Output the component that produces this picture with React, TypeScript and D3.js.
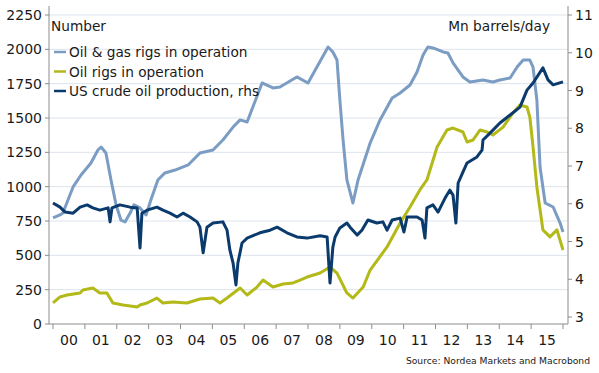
import React from 'react';
import * as d3 from 'd3';

const width = 599;
const height = 373;

// total oil & gas rigs (lhs)
const rigDates = [2000.0, 2000.22, 2000.31, 2000.47, 2000.63, 2000.88, 2001.19, 2001.41, 2001.51, 2001.66, 2001.82, 2001.98, 2002.13, 2002.26, 2002.42, 2002.54, 2002.73, 2002.92, 2003.07, 2003.29, 2003.51, 2003.83, 2004.24, 2004.61, 2005.02, 2005.33, 2005.65, 2005.87, 2006.09, 2006.27, 2006.56, 2006.9, 2007.12, 2007.65, 2008.0, 2008.28, 2008.63, 2008.78, 2008.91, 2009.0, 2009.1, 2009.22, 2009.41, 2009.57, 2009.95, 2010.26, 2010.64, 2010.89, 2011.2, 2011.42, 2011.61, 2011.76, 2011.92, 2012.24, 2012.39, 2012.55, 2012.86, 2013.08, 2013.49, 2013.8, 2014.02, 2014.34, 2014.56, 2014.75, 2014.96, 2015.06, 2015.18, 2015.28, 2015.44, 2015.69, 2015.91, 2016.0];
const rigTotal = [772, 794, 808, 903, 998, 1085, 1172, 1267, 1289, 1245, 1049, 867, 757, 743, 808, 867, 845, 794, 903, 1049, 1100, 1121, 1158, 1245, 1267, 1340, 1434, 1486, 1471, 1580, 1755, 1719, 1726, 1799, 1755, 1871, 2017, 1981, 1922, 1631, 1340, 1049, 881, 1049, 1318, 1486, 1646, 1682, 1740, 1835, 1959, 2017, 2010, 1981, 1973, 1901, 1799, 1762, 1777, 1762, 1777, 1791, 1871, 1922, 1922, 1871, 1631, 1143, 881, 852, 735, 670];

// oil rigs (lhs)
const oilDates = [2000.0, 2000.22, 2000.44, 2000.85, 2000.94, 2001.25, 2001.47, 2001.69, 2001.88, 2002.2, 2002.64, 2002.73, 2002.95, 2003.26, 2003.45, 2003.76, 2004.2, 2004.61, 2005.02, 2005.24, 2005.46, 2005.87, 2006.09, 2006.4, 2006.59, 2006.9, 2007.22, 2007.53, 2007.75, 2007.97, 2008.38, 2008.69, 2008.91, 2009.22, 2009.41, 2009.73, 2009.95, 2010.48, 2010.89, 2011.2, 2011.51, 2011.73, 2012.05, 2012.36, 2012.55, 2012.86, 2012.99, 2013.18, 2013.4, 2013.62, 2013.8, 2014.12, 2014.43, 2014.65, 2014.87, 2014.96, 2015.06, 2015.18, 2015.37, 2015.59, 2015.81, 2016.0];
const oilRigs = [153, 197, 211, 226, 248, 262, 226, 226, 153, 138, 124, 138, 153, 189, 153, 160, 153, 182, 189, 153, 189, 262, 211, 269, 320, 269, 291, 299, 320, 342, 371, 415, 371, 226, 189, 269, 393, 561, 735, 852, 976, 1049, 1289, 1413, 1427, 1398, 1325, 1340, 1413, 1398, 1376, 1434, 1537, 1595, 1580, 1507, 1289, 998, 685, 634, 685, 539];

// US crude oil production, mn barrels/day (rhs)
const prodDates = [2000.0, 2000.22, 2000.38, 2000.63, 2000.85, 2001.07, 2001.25, 2001.47, 2001.73, 2001.79, 2001.85, 2002.1, 2002.42, 2002.64, 2002.73, 2002.79, 2002.95, 2003.26, 2003.45, 2003.67, 2003.89, 2004.08, 2004.3, 2004.52, 2004.61, 2004.71, 2004.83, 2005.02, 2005.33, 2005.46, 2005.55, 2005.65, 2005.74, 2005.8, 2005.93, 2006.09, 2006.49, 2006.81, 2007.03, 2007.34, 2007.65, 2007.97, 2008.38, 2008.6, 2008.69, 2008.78, 2008.85, 2009.0, 2009.22, 2009.32, 2009.54, 2009.69, 2009.88, 2010.16, 2010.35, 2010.48, 2010.64, 2010.89, 2011.01, 2011.11, 2011.42, 2011.58, 2011.67, 2011.73, 2011.92, 2012.08, 2012.3, 2012.45, 2012.55, 2012.64, 2012.71, 2012.86, 2012.99, 2013.3, 2013.46, 2013.49, 2013.71, 2014.02, 2014.34, 2014.65, 2014.87, 2015.06, 2015.37, 2015.53, 2015.69, 2016.0];
const prodValues = [6.02, 5.91, 5.78, 5.75, 5.91, 5.97, 5.89, 5.83, 5.89, 5.52, 5.89, 5.97, 5.91, 5.89, 4.83, 5.75, 5.83, 5.91, 5.83, 5.75, 5.65, 5.75, 5.65, 5.52, 5.38, 4.7, 5.38, 5.49, 5.52, 5.3, 4.77, 4.43, 3.85, 4.43, 4.96, 5.09, 5.23, 5.3, 5.38, 5.23, 5.12, 5.09, 5.15, 5.12, 3.9, 4.85, 5.12, 5.36, 5.49, 5.38, 5.17, 5.3, 5.57, 5.49, 5.52, 5.3, 5.57, 5.62, 5.25, 5.65, 5.65, 5.57, 5.09, 5.89, 5.97, 5.78, 6.15, 6.36, 6.23, 5.49, 6.55, 6.84, 7.08, 7.24, 7.42, 7.69, 7.87, 8.14, 8.35, 8.56, 9.01, 9.2, 9.6, 9.28, 9.15, 9.23];

const years = d3.range(2000, 2016);
const yearLabels = years.map((y) => String(y).slice(2));
const leftTicks = d3.range(0, 2251, 250);
const rightTicks = d3.range(3, 12);

const legendItems = ['Oil & gas rigs in operation', 'Oil rigs in operation', 'US crude oil production, rhs'];
const colors = ['#7b9cc3', '#b3b919', '#0b3a6c'];

const font = 'DejaVu Sans, Verdana, sans-serif';

const App = () => {
	const x = d3.scaleLinear().domain([2000, 2016]).range([53, 563]);
	const yLeft = d3.scaleLinear().domain([0, 2250]).range([324, 15]);
	const yRight = d3.scaleLinear().domain([3, 11]).range([317, 15]);

	const plotLeft = 49;
	const plotRight = 568;
	const plotTop = 6;
	const plotBottom = 324;

	const rigLine = d3
		.line<number>()
		.x((d, i) => x(rigDates[i]))
		.y((d) => yLeft(d));
	const oilLine = d3
		.line<number>()
		.x((d, i) => x(oilDates[i]))
		.y((d) => yLeft(d));
	const prodLine = d3
		.line<number>()
		.x((d, i) => x(prodDates[i]))
		.y((d) => yRight(d));

	return (
		<svg
			width={width}
			height={height}
			style={{ position: 'absolute', left: 0, top: 0, background: '#fff' }}
			fontFamily={font}
		>
			{/* gridlines */}
			{leftTicks
				.filter((t) => t > 0)
				.map((t) => (
					<line key={t} x1={plotLeft} x2={plotRight} y1={yLeft(t)} y2={yLeft(t)} stroke="#dde3ed" strokeWidth={1} />
				))}

			{/* axes */}
			<line x1={plotLeft} x2={plotLeft} y1={plotTop} y2={plotBottom} stroke="#8c8c8c" />
			<line x1={plotRight} x2={plotRight} y1={plotTop} y2={plotBottom} stroke="#8c8c8c" />
			<line x1={plotLeft} x2={plotRight} y1={plotBottom} y2={plotBottom} stroke="#8c8c8c" />

			{leftTicks.map((t) => (
				<g key={t}>
					<line x1={plotLeft - 4} x2={plotLeft} y1={yLeft(t)} y2={yLeft(t)} stroke="#8c8c8c" />
					<text x={42} y={yLeft(t)} dy="0.36em" textAnchor="end" fontSize={14} fill="#1a1a1a">
						{t}
					</text>
				</g>
			))}
			{rightTicks.map((t) => (
				<g key={t}>
					<line x1={plotRight} x2={plotRight + 4} y1={yRight(t)} y2={yRight(t)} stroke="#8c8c8c" />
					<text x={575} y={yRight(t)} dy="0.36em" fontSize={14} fill="#1a1a1a">
						{t}
					</text>
				</g>
			))}
			{d3.range(2000, 2017).map((yr) => (
				<line key={yr} x1={x(yr)} x2={x(yr)} y1={plotBottom} y2={plotBottom + 5} stroke="#8c8c8c" />
			))}
			{years.map((yr, i) => (
				<text key={yr} x={x(yr + 0.5)} y={345} textAnchor="middle" fontSize={14} fill="#1a1a1a">
					{yearLabels[i]}
				</text>
			))}

			{/* series */}
			<path d={rigLine(rigTotal) || ''} fill="none" stroke={colors[0]} strokeWidth={3} strokeLinejoin="round" />
			<path d={oilLine(oilRigs) || ''} fill="none" stroke={colors[1]} strokeWidth={3} strokeLinejoin="round" />
			<path d={prodLine(prodValues) || ''} fill="none" stroke={colors[2]} strokeWidth={3} strokeLinejoin="round" />

			{/* titles and legend */}
			<text x={51} y={31} fontSize={13.7} fill="#1a1a1a">
				Number
			</text>
			<text x={550} y={31} textAnchor="end" fontSize={13.7} fill="#1a1a1a">
				Mn barrels/day
			</text>
			{legendItems.map((label, i) => (
				<g key={label}>
					<line x1={54} x2={66} y1={52 + i * 19.5} y2={52 + i * 19.5} stroke={colors[i]} strokeWidth={2.5} />
					<text x={69} y={57 + i * 19.5} fontSize={13.7} fill="#1a1a1a">
						{label}
					</text>
				</g>
			))}
			<text x={590} y={364} textAnchor="end" fontSize={9.2} fill="#1a1a1a">
				Source: Nordea Markets and Macrobond
			</text>
		</svg>
	);
};

export default App;
